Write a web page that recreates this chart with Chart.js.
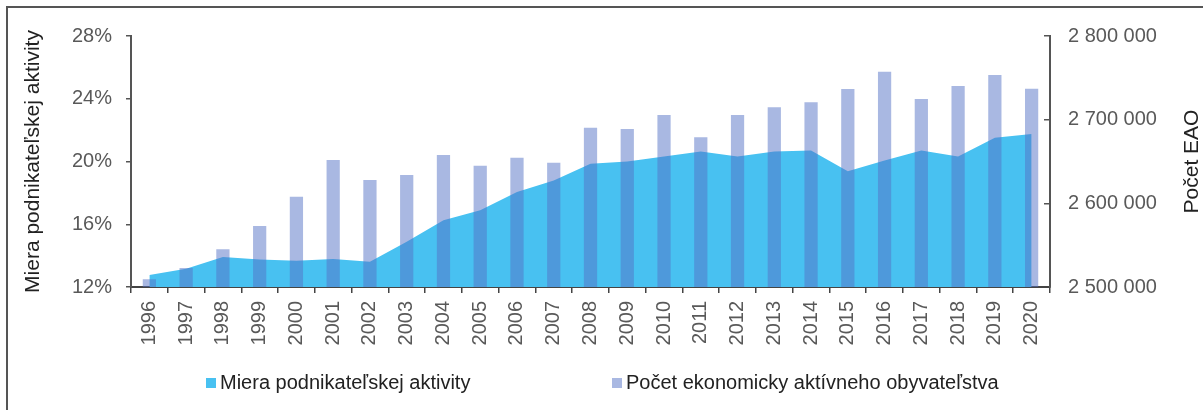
<!DOCTYPE html>
<html>
<head>
<meta charset="utf-8">
<script src="https://cdn.jsdelivr.net/npm/chart.js@4.4.0/dist/chart.umd.min.js"></script>
<style>
body { margin: 0; background: #fff; }
#wrap { position: relative; width: 1203px; height: 410px; overflow: hidden; font-family: "Liberation Sans", Arial, sans-serif; }
#ramik { position: absolute; left: 6px; top: 6px; width: 1210px; height: 420px; border-top: 2px solid #555; border-left: 2px solid #555; }
#graf { position: absolute; left: 0; top: 0; }
.leg { position: absolute; top: 372px; font-size: 20px; line-height: 20px; color: #222; white-space: nowrap; }
.leg i { display: inline-block; width: 10px; height: 10px; margin-right: 4px; vertical-align: 1px; }
</style>
</head>
<body>
<div id="wrap">
  <div id="ramik"></div>
  <canvas id="graf" width="1203" height="410"></canvas>
  <div class="leg" style="left:206px"><i style="background:#48c1f1"></i>Miera podnikateľskej aktivity</div>
  <div class="leg" style="left:612px"><i style="background:#a9b8e2"></i>Počet ekonomicky aktívneho obyvateľstva</div>
</div>
<script>
var roky = ['1996','1997','1998','1999','2000','2001','2002','2003','2004','2005','2006','2007','2008',
            '2009','2010','2011','2012','2013','2014','2015','2016','2017','2018','2019','2020'];

// miera podnikatelskej aktivity v %
var mieraAktivity = [12.76, 13.17, 13.92, 13.76, 13.68, 13.78, 13.61, 14.88, 16.25, 16.89, 18.05, 18.79, 19.85,
                     20.0, 20.32, 20.63, 20.32, 20.63, 20.70, 19.38, 20.06, 20.70, 20.32, 21.52, 21.75];

// pocet ekonomicky aktivneho obyvatelstva
var pocetEAO = [2509200, 2522700, 2545000, 2572900, 2607900, 2651800, 2627900, 2633900, 2657800, 2645000,
                2654500, 2648600, 2690400, 2688800, 2705600, 2678900, 2705600, 2714800, 2720800, 2736600,
                2757300, 2724700, 2740200, 2753400, 2737000];

var tickyPercenta = [12, 16, 20, 24, 28];
var tickyEAO = [2500000, 2600000, 2700000, 2800000];

var pismo = '"Liberation Sans", Arial, sans-serif';

function medzery(v) {
    return String(v).replace(/\B(?=(\d{3})+(?!\d))/g, ' ');
}

var pravyNadpis = {
    id: 'pravyNadpis',
    afterDraw: function (chart) {
        var ctx = chart.ctx;
        var s = chart.scales.y1;
        ctx.save();
        ctx.translate(s.right - 11, (chart.chartArea.top + chart.chartArea.bottom) / 2);
        ctx.rotate(-Math.PI / 2);
        ctx.font = '21px ' + pismo;
        ctx.fillStyle = '#222';
        ctx.textAlign = 'center';
        ctx.textBaseline = 'middle';
        ctx.fillText('Počet EAO', 0, 0);
        ctx.restore();
    }
};

var ctx = document.getElementById('graf');
var graf = new Chart(ctx, {
    type: 'bar',
    data: {
        labels: roky,
        datasets: [
            {
                type: 'bar',
                label: 'Počet ekonomicky aktívneho obyvateľstva',
                data: pocetEAO,
                yAxisID: 'y1',
                backgroundColor: 'rgba(83,113,197,0.5)',
                borderWidth: 0,
                categoryPercentage: 1,
                barPercentage: 0.36,
                order: 0
            },
            {
                type: 'line',
                label: 'Miera podnikateľskej aktivity',
                data: mieraAktivity,
                yAxisID: 'y',
                backgroundColor: '#48c1f1',
                borderWidth: 0,
                pointRadius: 0,
                tension: 0,
                fill: 'start',
                order: 1
            }
        ]
    },
    options: {
        responsive: false,
        animation: false,
        devicePixelRatio: 1,
        layout: { padding: { left: 19, top: 36, right: 0, bottom: 0 } },
        plugins: {
            legend: { display: false },
            tooltip: { enabled: false }
        },
        scales: {
            x: {
                offset: true,
                grid: { display: true, drawOnChartArea: false, drawTicks: true, tickLength: 6, color: '#444', lineWidth: 1.5, offset: true },
                border: { display: true, color: '#444', width: 2 },
                ticks: { color: '#595959', font: { family: pismo, size: 20 }, minRotation: 90, maxRotation: 90, padding: 8, autoSkip: false },
                afterFit: function (scale) { scale.height = 123; }
            },
            y: {
                position: 'left',
                min: 12,
                max: 28,
                afterBuildTicks: function (scale) {
                    scale.ticks = tickyPercenta.map(function (v) { return { value: v }; });
                },
                grid: { display: true, drawOnChartArea: false, drawTicks: true, tickLength: 5, color: '#555', lineWidth: 1.5 },
                border: { display: true, color: '#555', width: 2 },
                ticks: {
                    color: '#595959', font: { family: pismo, size: 20 }, padding: 14,
                    callback: function (v) { return v + '%'; }
                },
                title: { display: true, text: 'Miera podnikateľskej aktivity', color: '#222', font: { family: pismo, size: 21 }, padding: { top: 2, bottom: 0 } },
                afterFit: function (scale) { scale.width = 112; }
            },
            y1: {
                position: 'right',
                min: 2500000,
                max: 2800000,
                afterBuildTicks: function (scale) {
                    scale.ticks = tickyEAO.map(function (v) { return { value: v }; });
                },
                // znacky smeruju dovnutra grafu
                grid: { display: true, drawOnChartArea: false, drawTicks: true, tickLength: -6, color: '#555', lineWidth: 1.5 },
                border: { display: true, color: '#555', width: 2 },
                ticks: {
                    color: '#595959', font: { family: pismo, size: 20 }, padding: 24,
                    callback: function (v) { return medzery(v); }
                },
                afterFit: function (scale) { scale.width = 153; }
            }
        }
    },
    plugins: [pravyNadpis]
});
</script>
</body>
</html>
